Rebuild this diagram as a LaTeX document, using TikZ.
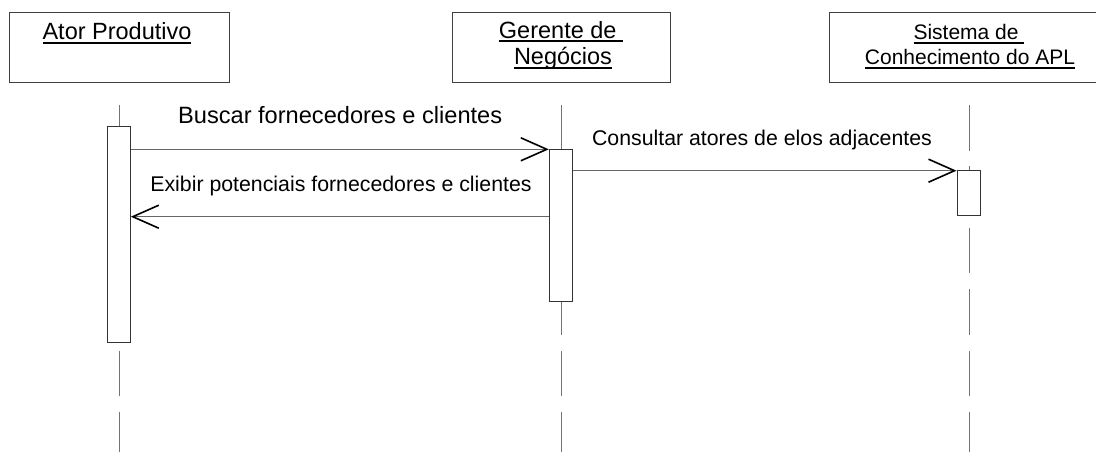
\documentclass[tikz,border=0pt]{standalone}
\usepackage{fontspec}
\setmainfont{Liberation Sans}
\usetikzlibrary{arrows.meta,calc}
\newcommand{\myul}[1]{\setbox0\hbox{#1}\rlap{\rule[-3.6pt]{\wd0}{1.4pt}}\box0}
\tikzset{
  actorbox/.style={draw=black!75, line width=1pt, fill=white, minimum height=70pt, inner sep=0pt},
  actbar/.style={draw=black!80, line width=1pt, fill=white, minimum width=23pt, inner sep=0pt},
  lifeline/.style={draw=black!55, line width=1pt, dash pattern=on 45.5pt off 15.9pt},
  msg/.style={draw=black!60, line width=1pt, -{Straight Barb[length=26pt,width=23pt,line width=1.6pt,color=black]}},
  hdr/.style={anchor=base, inner sep=0pt, font=\fontsize{23.5}{28}\selectfont},
  hdrs/.style={anchor=base, inner sep=0pt, font=\fontsize{21}{25}\selectfont},
  lbl/.style={anchor=base, inner sep=0pt, font=\fontsize{21.3}{25}\selectfont},
  lblbig/.style={anchor=base, inner sep=0pt, font=\fontsize{23.6}{28}\selectfont}
}
\begin{document}
\begin{tikzpicture}[x=1pt,y=-1pt]
\useasboundingbox (0,0) rectangle (1096,452);
\clip (0,0) rectangle (1096,452);
% actor boxes
\node[actorbox, minimum width=220pt] (ator) at (119,47.3) {};
\node[actorbox, minimum width=218pt] (gerente) at (561,47.3) {};
\node[actorbox, minimum width=279.4pt] (sistema) at (969,47.3) {};
% header texts
\node[hdr] (tator) at (117,40) {\myul{Ator Produtivo}};
\node[hdr] (tger1) at (561,38.3) {\myul{Gerente de\ }};
\node[hdr] (tger2) at (563,65) {\myul{Negócios}};
\node[hdrs] (tsis1) at (969,40) {\myul{Sistema de\ }};
\node[hdrs] (tsis2) at (970,65) {\myul{Conhecimento do APL}};
% lifelines
\coordinate (l1t) at (119,105); \coordinate (l1b) at (119,452);
\coordinate (l2t) at (561,105); \coordinate (l2b) at (561,452);
\coordinate (l3t) at (969,105); \coordinate (l3b) at (969,452);
\draw[lifeline] (l1t) -- (l1b);
\draw[lifeline] (l2t) -- (l2b);
\draw[lifeline] (l3t) -- (l3b);
% activation bars
\node[actbar, minimum height=216pt] (act1) at (118.8,234.7) {};
\node[actbar, minimum height=151.7pt] (act2) at (560.8,225.15) {};
\node[actbar, minimum height=44.3pt] (act3) at (968.5,192.85) {};
% messages
\coordinate (m1) at (0,149.3);
\coordinate (m2) at (0,216.7);
\coordinate (m3) at (0,170.7);
\draw[msg] (act1.east |- m1) -- (act2.west |- m1);
\draw[msg] (act2.west |- m2) -- (act1.east |- m2);
\draw[msg] (act2.east |- m3) -- (act3.west |- m3);
% message labels
\node[lblbig] (t1) at (340.2,124) {Buscar fornecedores e clientes};
\node[lbl] (t2) at (341,191.7) {Exibir potenciais fornecedores e clientes};
\node[lbl] (t3) at (762,145) {Consultar atores de elos adjacentes};
\end{tikzpicture}
\end{document}
